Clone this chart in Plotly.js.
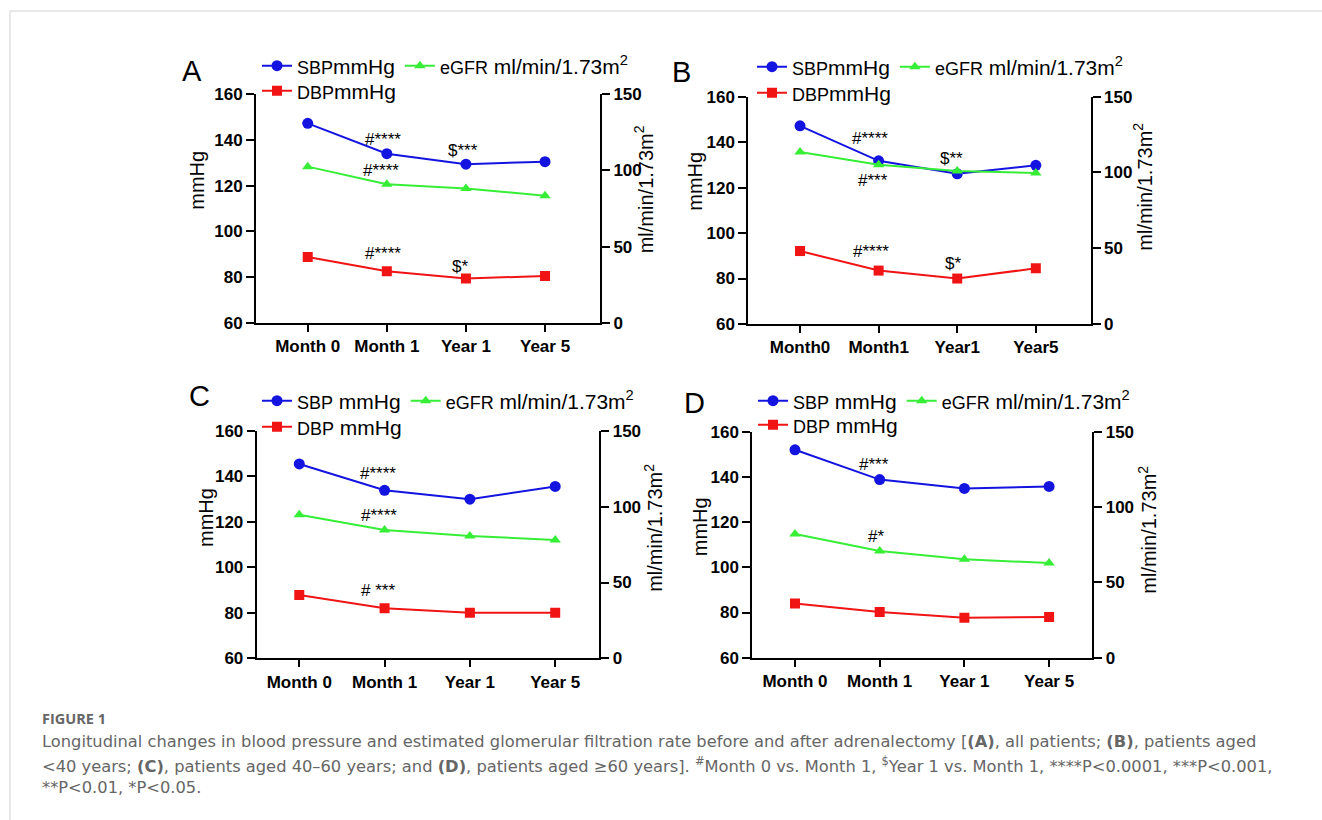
<!DOCTYPE html>
<html><head><meta charset="utf-8">
<script src="https://cdn.plot.ly/plotly-3.0.1.min.js"></script>
<style>html,body{margin:0;padding:0;background:#fff}#chart{width:1322px;height:820px}</style>
</head><body><div id="chart"></div>
<script>
// ---------- data ----------
const categoriesSpaced = ['Month 0', 'Month 1', 'Year 1', 'Year 5'];
const categoriesTight  = ['Month0', 'Month1', 'Year1', 'Year5'];

const sbpA  = [147.3, 134.0, 129.4, 130.5];
const dbpA  = [88.8, 82.5, 79.4, 80.4];
const egfrA = [102.5, 90.9, 88.2, 83.4];

const sbpB  = [147.2, 131.8, 126.1, 129.8];
const dbpB  = [92.1, 83.5, 80.0, 84.5];
const egfrB = [113.5, 105.1, 100.9, 99.6];

const sbpC  = [145.5, 133.9, 130.0, 135.6];
const dbpC  = [87.8, 82.0, 80.0, 80.0];
const egfrC = [94.8, 84.7, 80.7, 78.1];

const sbpD  = [152.0, 138.8, 134.9, 135.8];
const dbpD  = [84.0, 80.2, 77.7, 78.0];
const egfrD = [82.1, 70.8, 65.3, 62.8];

const seriesNames = ['SBP', 'DBP', 'eGFR'];
const unitLabels  = ['mmHg', 'mmHg', 'ml/min/1.73m<sup>2</sup>'];
const panelLetters = ['A', 'B', 'C', 'D'];
const leftTitle = 'mmHg';
const rightTitle = 'ml/min/1.73m<sup>2</sup>';

const sigLabelsA = ['#****', '$***', '#****', '#****', '$*'];
const sigLabelsB = ['#****', '$**', '#***', '#****', '$*'];
const sigLabelsC = ['#****', '#****', '# ***'];
const sigLabelsD = ['#***', '#*'];

const captionHead = 'FIGURE 1';
const captionLines = [
  'Longitudinal changes in blood pressure and estimated glomerular filtration rate before and after adrenalectomy [<b>(A)</b>, all patients; <b>(B)</b>, patients aged',
  '&lt;40 years; <b>(C)</b>, patients aged 40–60 years; and <b>(D)</b>, patients aged ≥60 years]. <sup>#</sup>Month 0 vs. Month 1, <sup>$</sup>Year 1 vs. Month 1, ****P&lt;0.0001, ***P&lt;0.001,',
  '**P&lt;0.01, *P&lt;0.05.'
];

// ---------- layout helpers ----------
const W = 1322, H = 820;
const px = p => p / W;
const py = p => 1 - p / H;
const FONT = 'Liberation Sans, Arial, Helvetica, sans-serif';
const CAPFONT = 'DejaVu Sans, Open Sans, sans-serif';
const BLUE = '#1414e0', RED = '#f01414', GREEN = '#36ee36';

const panels = [
  { cats: categoriesSpaced, sbp: sbpA, dbp: dbpA, egfr: egfrA, sep: ['', '', ' '],
    box: [256, 600, 94.3, 322.7], xr: [-0.654, 3.695],
    letter: [192, 71], lt: [196.7, 180], rt: [643.3, 189],
    leg1: [257, 66], leg2: [257, 91],
    sig: sigLabelsA, sigPos: [[0.956, 140.3], [1.967, 135.6], [0.925, 126.5], [0.956, 90.4], [1.925, 84.8]] },
  { cats: categoriesTight, sbp: sbpB, dbp: dbpB, egfr: egfrB, sep: ['', '', ' '],
    box: [748.3, 1090.7, 96.7, 324], xr: [-0.658, 3.698],
    letter: [681, 72.5], lt: [695, 181.7], rt: [1143, 186.7],
    leg1: [752, 67], leg2: [752, 93],
    sig: sigLabelsB, sigPos: [[0.89, 141.7], [1.93, 132.9], [0.93, 123.0], [0.9, 91.8], [1.94, 86.7]] },
  { cats: categoriesSpaced, sbp: sbpC, dbp: dbpC, egfr: egfrC, sep: [' ', ' ', ' '],
    box: [256.7, 599.3, 431, 658.3], xr: [-0.499, 3.517],
    letter: [199, 396], lt: [205.5, 517.5], rt: [653.3, 527.5],
    leg1: [257, 401], leg2: [257, 427],
    sig: sigLabelsC, sigPos: [[0.917, 141.4], [0.937, 123.0], [0.926, 89.7]] },
  { cats: categoriesSpaced, sbp: sbpD, dbp: dbpD, egfr: egfrD, sep: [' ', ' ', ' '],
    box: [752.3, 1092.3, 431.7, 657.7], xr: [-0.504, 3.51],
    letter: [694, 402.5], lt: [699.5, 526.7], rt: [1146.7, 530],
    leg1: [753, 401], leg2: [753, 425],
    sig: sigLabelsD, sigPos: [[0.93, 145.3], [0.96, 113.5]] }
];

const data = [];
const layout = {
  width: W, height: H,
  margin: { l: 0, r: 0, t: 0, b: 0, pad: 0 },
  paper_bgcolor: '#fff', plot_bgcolor: 'rgba(0,0,0,0)',
  font: { family: FONT, color: '#000' },
  showlegend: true,
  annotations: [],
  shapes: [
    { type: 'line', xref: 'paper', yref: 'paper', x0: px(10), x1: 1, y0: py(11), y1: py(11), line: { color: '#d0d0d0', width: 1 } },
    { type: 'line', xref: 'paper', yref: 'paper', x0: px(10), x1: px(10), y0: py(11), y1: 0, line: { color: '#d0d0d0', width: 1 } }
  ]
};

const nm = (i, sep) => '<span style="font-size:18px">' + seriesNames[i] + '</span>' + sep + unitLabels[i];

panels.forEach((p, k) => {
  const xa = k === 0 ? 'x' : 'x' + (k + 1);
  const li = 2 * k + 1, ri = 2 * k + 2;
  const yl = li === 1 ? 'y' : 'y' + li;
  const yr = 'y' + ri;
  const lg1 = li === 1 ? 'legend' : 'legend' + li;
  const lg2 = 'legend' + ri;

  const common = { type: 'scatter', mode: 'lines+markers', x: p.cats, xaxis: xa, hoverinfo: 'skip' };
  data.push(Object.assign({}, common, { y: p.sbp, yaxis: yl, name: nm(0, p.sep[0]), legend: lg1,
    line: { color: BLUE, width: 2 }, marker: { symbol: 'circle', size: 11, color: BLUE } }));
  data.push(Object.assign({}, common, { y: p.egfr, yaxis: yr, name: nm(2, p.sep[2]), legend: lg1,
    line: { color: GREEN, width: 2 }, marker: { symbol: 'triangle-up', size: 10, color: GREEN } }));
  data.push(Object.assign({}, common, { y: p.dbp, yaxis: yl, name: nm(1, p.sep[1]), legend: lg2,
    line: { color: RED, width: 2 }, marker: { symbol: 'square', size: 10, color: RED } }));

  const [x0, x1, y0, y1] = p.box;
  const axBase = { showline: true, linecolor: '#000', linewidth: 2, ticks: 'outside', ticklen: 8, tickwidth: 2,
    tickcolor: '#000', showgrid: false, zeroline: false, fixedrange: true,
    tickfont: { family: FONT, size: 17, weight: 'bold', color: '#000' } };

  layout[xa.replace('x', 'xaxis')] = Object.assign({}, axBase, { type: 'category', domain: [px(x0), px(x1)],
    range: p.xr, anchor: yl, ticklen: 7 });
  layout[yl.replace('y', 'yaxis')] = Object.assign({}, axBase, { domain: [py(y1), py(y0)], range: [60, 160],
    dtick: 20, tick0: 60, anchor: xa });
  layout['yaxis' + ri] = Object.assign({}, axBase, { domain: [py(y1), py(y0)], range: [0, 150], dtick: 50, tick0: 0,
    anchor: xa, overlaying: yl, side: 'right' });

  const legBase = { orientation: 'h', xanchor: 'left', yanchor: 'middle', bgcolor: 'rgba(0,0,0,0)', borderwidth: 0,
    font: { family: FONT, size: 21, color: '#000' }, traceorder: 'normal', itemclick: false, itemdoubleclick: false };
  layout[lg1] = Object.assign({}, legBase, { x: px(p.leg1[0]), y: py(p.leg1[1]) });
  layout[lg2] = Object.assign({}, legBase, { x: px(p.leg2[0]), y: py(p.leg2[1]) });

  // panel letter
  layout.annotations.push({ text: panelLetters[k], xref: 'paper', yref: 'paper', x: px(p.letter[0]), y: py(p.letter[1]),
    xanchor: 'center', yanchor: 'middle', showarrow: false, font: { family: FONT, size: 29, color: '#000' } });
  // axis titles
  layout.annotations.push({ text: leftTitle, xref: 'paper', yref: 'paper', x: px(p.lt[0]), y: py(p.lt[1]), textangle: -90,
    xanchor: 'center', yanchor: 'middle', showarrow: false, font: { family: FONT, size: 20, color: '#000' } });
  layout.annotations.push({ text: rightTitle, xref: 'paper', yref: 'paper', x: px(p.rt[0]), y: py(p.rt[1]), textangle: -90,
    xanchor: 'center', yanchor: 'middle', showarrow: false, font: { family: FONT, size: 20, color: '#000' } });
  // significance marks
  p.sig.forEach((s, j) => {
    layout.annotations.push({ text: s, xref: xa, yref: yl, x: p.sigPos[j][0], y: p.sigPos[j][1],
      xanchor: 'center', yanchor: 'middle', showarrow: false, font: { family: FONT, size: 17, color: '#000' } });
  });
});

// caption
layout.annotations.push({ text: '<b>' + captionHead + '</b>', xref: 'paper', yref: 'paper', x: px(40), y: py(718.5),
  xanchor: 'left', yanchor: 'middle', showarrow: false, font: { family: 'Open Sans, sans-serif', size: 14.5, color: '#666' } });
const capY = [741.7, 765, 787];
captionLines.forEach((t, i) => {
  layout.annotations.push({ text: t, xref: 'paper', yref: 'paper', x: px(40), y: py(capY[i]), xanchor: 'left',
    yanchor: 'middle', showarrow: false, align: 'left', font: { family: CAPFONT, size: 16.3, color: '#666' } });
});

Plotly.newPlot('chart', data, layout, { staticPlot: true, displayModeBar: false });
</script></body></html>
